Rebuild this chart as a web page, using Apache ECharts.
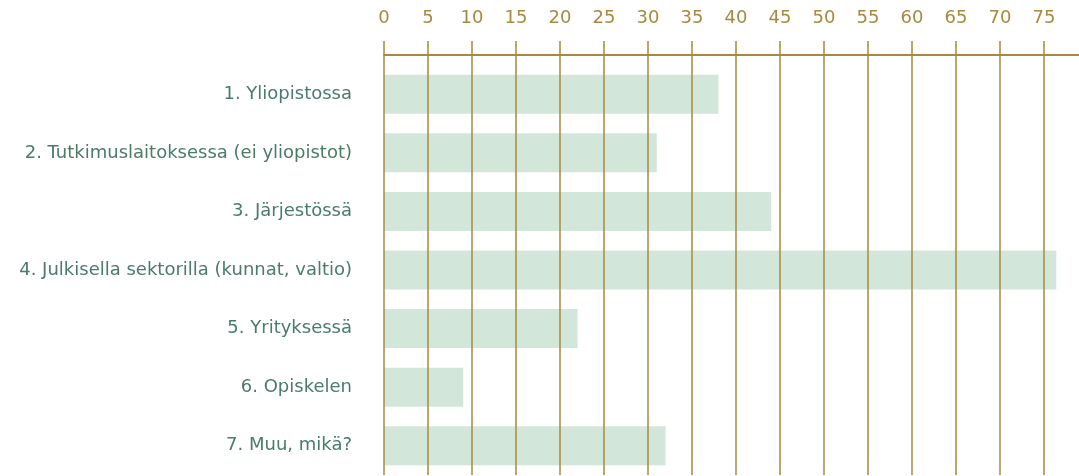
<!DOCTYPE html>
<html>
<head>
	<meta charset="utf-8" />
	<title>Työpaikka</title>
	<script type="text/javascript" src="https://cdn.jsdelivr.net/npm/echarts@6/dist/echarts.min.js"></script>
	<style type="text/css">
		html, body{ margin: 0; padding: 0; background: #fff; }
		#container{ width: 1079px; height: 476px; }
	</style>
</head>
<body>
<div id="container"></div>
<script type="text/javascript">
	// data
	var categories = [
		'1. Yliopistossa',
		'2. Tutkimuslaitoksessa (ei yliopistot)',
		'3. Järjestössä',
		'4. Julkisella sektorilla (kunnat, valtio)',
		'5. Yrityksessä',
		'6. Opiskelen',
		'7. Muu, mikä?'
	];
	var values = [38, 31, 44, 76.4, 22, 9, 32];
	var axisMin = 0;
	var axisMax = 80;   // 80 falls just past the right edge
	var axisStep = 5;

	var gold = '#a8893f';
	var fontName = 'DejaVu Sans';

	var chart = echarts.init(document.getElementById('container'));

	var options = {
		animation: false,
		grid: {
			left: 384,
			right: -9,
			top: 65,
			bottom: 1,
			outerBoundsMode: 'none'
		},
		xAxis: [
			{
				type: 'value',
				position: 'top',
				offset: 10,
				min: axisMin,
				max: axisMax,
				interval: axisStep,
				z: 3,
				axisLine: { show: true, lineStyle: { color: gold, width: 2 } },
				axisTick: { show: true, length: 14, lineStyle: { color: gold, width: 1.5 } },
				axisLabel: {
					margin: 28,
					color: gold,
					fontFamily: fontName,
					fontSize: 18,
					formatter: function (v) { return v >= axisMax ? '' : v; }
				},
				splitLine: { show: true, lineStyle: { color: gold, width: 1.5 } }
			},
			{
				// fills the gap between the axis line and the grid
				type: 'value',
				position: 'top',
				offset: 0,
				min: axisMin,
				max: axisMax,
				interval: axisStep,
				z: 3,
				axisLine: { show: false },
				axisTick: { show: true, length: 11, lineStyle: { color: gold, width: 1.5 } },
				axisLabel: { show: false },
				splitLine: { show: false }
			}
		],
		yAxis: {
			type: 'category',
			inverse: true,
			data: categories,
			axisLine: { show: false },
			axisTick: { show: false },
			axisLabel: {
				margin: 32,
				color: '#4a7c68',
				fontFamily: fontName,
				fontSize: 18
			}
		},
		series: [
			{
				type: 'bar',
				xAxisIndex: 0,
				data: values,
				barWidth: 39,
				itemStyle: { color: '#d2e7da' }
			}
		]
	};

	chart.setOption(options);
</script>
</body>
</html>
